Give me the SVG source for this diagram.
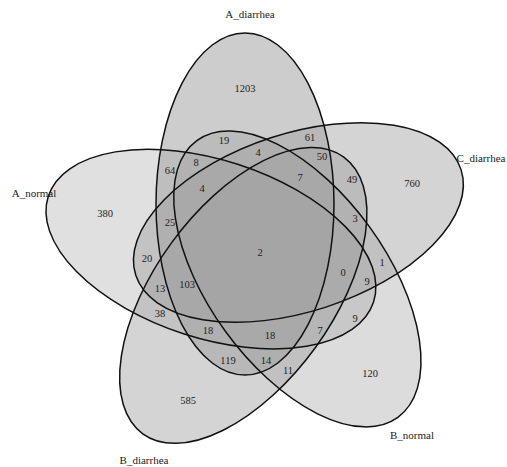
<svg xmlns="http://www.w3.org/2000/svg" xmlns:xlink="http://www.w3.org/1999/xlink" width="507" height="467" viewBox="0 0 507 467">
<defs>
<ellipse id="e" cx="245" cy="204" rx="89" ry="171"/>
</defs>
<style>
.fill{fill:#a0a0a0;stroke:none;}
.line{fill:none;stroke:#111;stroke-width:1.5;}
.lab{font-family:"Liberation Serif",serif;font-size:11px;fill:#222;text-anchor:middle;}
.num{font-family:"Liberation Serif",serif;font-size:10.5px;fill:#222;text-anchor:middle;}
</style>
<rect width="507" height="467" fill="#ffffff"/>
<g id="connectors"></g>
<g id="A_diarrhea">
<use href="#e" xlink:href="#e" class="fill" fill-opacity="0.53"/>
</g>
<g id="C_diarrhea">
<use href="#e" xlink:href="#e" class="fill" fill-opacity="0.45" transform="rotate(72 259 250)"/>
</g>
<g id="B_normal">
<use href="#e" xlink:href="#e" class="fill" fill-opacity="0.37" transform="rotate(144 259 250)"/>
</g>
<g id="B_diarrhea">
<use href="#e" xlink:href="#e" class="fill" fill-opacity="0.45" transform="rotate(216 259 250)"/>
</g>
<g id="A_normal">
<use href="#e" xlink:href="#e" class="fill" fill-opacity="0.32" transform="rotate(288 259 250)"/>
</g>
<g id="outlines">
<use href="#e" xlink:href="#e" class="line"/>
<use href="#e" xlink:href="#e" class="line" transform="rotate(72 259 250)"/>
<use href="#e" xlink:href="#e" class="line" transform="rotate(144 259 250)"/>
<use href="#e" xlink:href="#e" class="line" transform="rotate(216 259 250)"/>
<use href="#e" xlink:href="#e" class="line" transform="rotate(288 259 250)"/>
</g>
<g id="set-labels">
<text class="lab" x="250" y="18">A_diarrhea</text>
<text class="lab" x="34" y="197">A_normal</text>
<text class="lab" x="481" y="162">C_diarrhea</text>
<text class="lab" x="144" y="464">B_diarrhea</text>
<text class="lab" x="412" y="439">B_normal</text>
</g>
<g id="counts">
<text class="num" x="245" y="92">1203</text>
<text class="num" x="105" y="217">380</text>
<text class="num" x="412" y="187">760</text>
<text class="num" x="188" y="404">585</text>
<text class="num" x="370" y="377">120</text>
<text class="num" x="224" y="144">19</text>
<text class="num" x="310" y="141">61</text>
<text class="num" x="258" y="156">4</text>
<text class="num" x="196" y="166">8</text>
<text class="num" x="170" y="174">64</text>
<text class="num" x="202" y="192">4</text>
<text class="num" x="322" y="160">50</text>
<text class="num" x="300" y="181">7</text>
<text class="num" x="352" y="183">49</text>
<text class="num" x="355" y="222">3</text>
<text class="num" x="170" y="226">25</text>
<text class="num" x="147" y="262">20</text>
<text class="num" x="260" y="256">2</text>
<text class="num" x="382" y="266">1</text>
<text class="num" x="343" y="276">0</text>
<text class="num" x="367" y="285">9</text>
<text class="num" x="160" y="292">13</text>
<text class="num" x="187" y="288">103</text>
<text class="num" x="160" y="317">38</text>
<text class="num" x="208" y="334">18</text>
<text class="num" x="270" y="339">18</text>
<text class="num" x="320" y="334">7</text>
<text class="num" x="355" y="322">9</text>
<text class="num" x="228" y="364">119</text>
<text class="num" x="266" y="364">14</text>
<text class="num" x="288" y="374">11</text>
</g>
</svg>
